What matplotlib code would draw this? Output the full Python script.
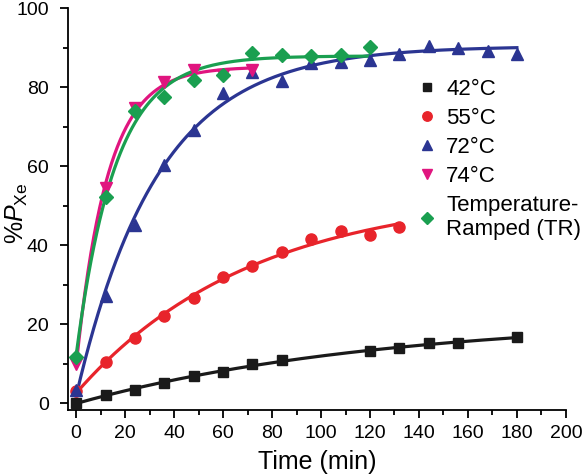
import numpy as np
import matplotlib
matplotlib.use("Agg")
import matplotlib.pyplot as plt
from matplotlib.ticker import MultipleLocator

plt.rcParams['font.family'] = ['Liberation Sans', 'DejaVu Sans']
plt.rcParams['mathtext.fontset'] = 'custom'
plt.rcParams['mathtext.rm'] = 'Liberation Sans'
plt.rcParams['mathtext.it'] = 'Liberation Sans:italic'

# data
t42 = [0, 12, 24, 36, 48, 60, 72, 84, 120, 132, 144, 156, 180]
p42 = [0, 2.1, 3.4, 5.1, 6.8, 8.0, 9.9, 11.0, 13.1, 13.9, 15.2, 15.2, 16.7]

t55 = [0, 12, 24, 36, 48, 60, 72, 84, 96, 108, 120, 132]
p55 = [3.0, 10.5, 16.5, 22.1, 26.7, 32.0, 34.6, 38.2, 41.5, 43.6, 42.6, 44.5]

t72 = [0, 12, 24, 36, 48, 60, 72, 84, 96, 108, 120, 132, 144, 156, 168, 180]
p72 = [3.4, 27.0, 45.0, 60.2, 69.2, 78.5, 83.8, 81.6, 86.0, 86.3, 86.8, 88.3, 90.3, 90.0, 89.2, 88.5]

t74 = [0, 12, 24, 36, 48, 60, 72]
p74 = [9.8, 54.4, 74.6, 81.3, 84.4, 83.0, 84.4]

tTR = [0, 12, 24, 36, 48, 60, 72, 84, 96, 108, 120]
pTR = [11.8, 52.3, 74.0, 77.4, 81.8, 83.0, 88.6, 88.1, 87.8, 88.1, 90.2]

series = [
    (t42, p42, '42°C', 's', '#1a1a1a', 7),
    (t55, p55, '55°C', 'o', '#e8242b', 8),
    (t72, p72, '72°C', '^', '#2b3592', 8),
    (t74, p74, '74°C', 'v', '#e0157f', 8),
    (tTR, pTR, 'Temperature-\nRamped (TR)', 'D', '#1a9f50', 7),
]


def fit_buildup(t, p):
    # p = c + a*(1-exp(-k t)), grid over k, linear lstsq for a, c
    t = np.asarray(t, float); p = np.asarray(p, float)
    best = None
    for k in np.logspace(-4, 0, 2000):
        A = np.column_stack([np.ones_like(t), 1 - np.exp(-k * t)])
        coef = np.linalg.lstsq(A, p, rcond=None)[0]
        err = np.sum((A @ coef - p) ** 2)
        if best is None or err < best[0]:
            best = (err, k, coef)
    return best[1], best[2]


fig = plt.figure(figsize=(5.87, 4.76), dpi=100)
ax = fig.add_axes([0.116, 0.139, 0.848, 0.844])

handles = []
for t, p, lab, m, c, ms in series:
    k, (c0, a) = fit_buildup(t, p)
    tt = np.linspace(0, max(t), 300)
    ax.plot(tt, c0 + a * (1 - np.exp(-k * tt)), '-', color=c, lw=2.3, zorder=2)
    h, = ax.plot(t, p, m, color=c, ms=ms, mec=c, ls='none', zorder=3, label=lab)
    handles.append(h)

ax.set_xlim(-3.3, 200)
ax.set_ylim(-1.7, 100)
ax.xaxis.set_major_locator(MultipleLocator(20))
ax.xaxis.set_minor_locator(MultipleLocator(10))
ax.yaxis.set_major_locator(MultipleLocator(20))
ax.yaxis.set_minor_locator(MultipleLocator(10))
for s in ['top', 'right']:
    ax.spines[s].set_visible(False)
for s in ['left', 'bottom']:
    ax.spines[s].set_linewidth(1.3)
ax.tick_params(which='major', direction='out', length=6, width=1.3, labelsize=14)
ax.tick_params(which='minor', direction='out', length=3.5, width=1.3)
ax.tick_params(axis='x', which='major', pad=5)
ax.tick_params(axis='y', which='major', pad=8)

ax.set_xlabel('Time (min)', fontsize=18, labelpad=6)
ax.set_ylabel(r'%$P_{\mathrm{Xe}}$', fontsize=18)
ax.yaxis.set_label_coords(-0.077, 0.49)

leg = ax.legend(handles=handles, loc='upper left', bbox_to_anchor=(0.69, 0.845),
                frameon=False, fontsize=16, handlelength=0.6, handletextpad=0.55,
                labelspacing=0.36, markerscale=0.85, borderaxespad=0)

fig.savefig('out.png', dpi=100)
